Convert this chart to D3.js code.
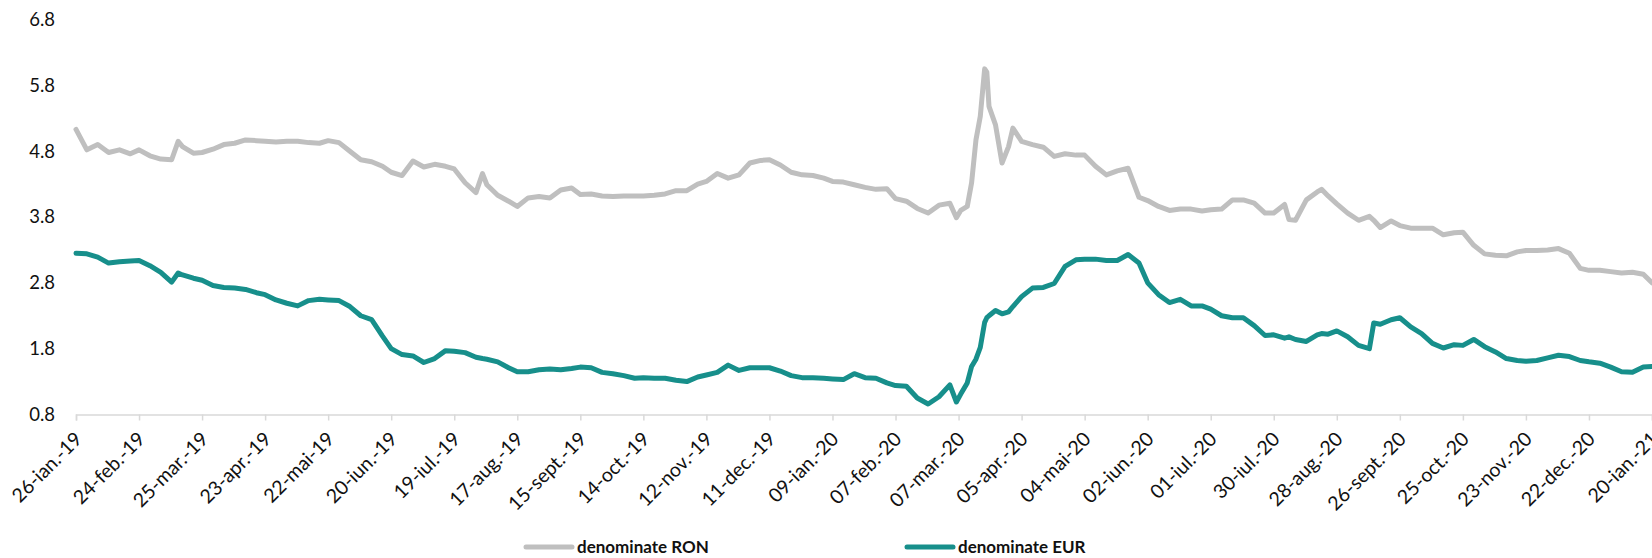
<!DOCTYPE html>
<html>
<head>
<meta charset="utf-8">
<script src="https://cdn.jsdelivr.net/npm/d3@7"></script>
<style>
  body { margin: 0; background: #fff; }
  svg { display: block; }
</style>
</head>
<body>
<script>
var dates = [
  "2019-01-26","2019-01-31","2019-02-05","2019-02-10","2019-02-15","2019-02-20","2019-02-24","2019-03-01","2019-03-06","2019-03-11",
  "2019-03-14","2019-03-16","2019-03-21","2019-03-25","2019-03-30","2019-04-04","2019-04-09","2019-04-14","2019-04-19","2019-04-23",
  "2019-04-28","2019-05-03","2019-05-08","2019-05-13","2019-05-18","2019-05-22","2019-05-27","2019-06-01","2019-06-06","2019-06-11",
  "2019-06-16","2019-06-20","2019-06-25","2019-06-30","2019-07-05","2019-07-10","2019-07-15","2019-07-19","2019-07-24","2019-07-29",
  "2019-08-01","2019-08-03","2019-08-08","2019-08-13","2019-08-17","2019-08-22","2019-08-27","2019-09-01","2019-09-06","2019-09-11",
  "2019-09-15","2019-09-20","2019-09-25","2019-09-30","2019-10-05","2019-10-10","2019-10-14","2019-10-19","2019-10-24","2019-10-29",
  "2019-11-03","2019-11-08","2019-11-12","2019-11-17","2019-11-22","2019-11-27","2019-12-02","2019-12-07","2019-12-11","2019-12-16",
  "2019-12-21","2019-12-26","2019-12-31","2020-01-05","2020-01-09","2020-01-14","2020-01-19","2020-01-24","2020-01-29","2020-02-03",
  "2020-02-07","2020-02-12","2020-02-17","2020-02-22","2020-02-27","2020-03-03","2020-03-06","2020-03-08","2020-03-11","2020-03-13",
  "2020-03-15","2020-03-17","2020-03-19","2020-03-20","2020-03-21","2020-03-24","2020-03-27","2020-03-30","2020-04-01","2020-04-05",
  "2020-04-10","2020-04-15","2020-04-20","2020-04-25","2020-04-30","2020-05-04","2020-05-09","2020-05-14","2020-05-19","2020-05-24",
  "2020-05-29","2020-06-02","2020-06-07","2020-06-12","2020-06-17","2020-06-22","2020-06-27","2020-07-01","2020-07-06","2020-07-11",
  "2020-07-16","2020-07-21","2020-07-26","2020-07-30","2020-08-04","2020-08-06","2020-08-09","2020-08-14","2020-08-19","2020-08-21",
  "2020-08-24","2020-08-28","2020-09-02","2020-09-07","2020-09-12","2020-09-14","2020-09-17","2020-09-22","2020-09-26","2020-10-01",
  "2020-10-06","2020-10-11","2020-10-16","2020-10-21","2020-10-25","2020-10-30","2020-11-04","2020-11-09","2020-11-14","2020-11-19",
  "2020-11-23","2020-11-28","2020-12-03","2020-12-08","2020-12-13","2020-12-18","2020-12-22","2020-12-27","2021-01-01","2021-01-06",
  "2021-01-11","2021-01-16","2021-01-20"
];

var ronValues = [
  5.13,4.82,4.90,4.78,4.82,4.76,4.82,4.73,4.68,4.67,
  4.95,4.87,4.77,4.78,4.83,4.90,4.92,4.97,4.96,4.95,
  4.94,4.95,4.95,4.93,4.92,4.96,4.93,4.80,4.67,4.64,
  4.57,4.48,4.43,4.65,4.56,4.60,4.57,4.53,4.32,4.17,
  4.46,4.29,4.13,4.04,3.96,4.09,4.11,4.09,4.21,4.24,
  4.14,4.15,4.12,4.11,4.12,4.12,4.12,4.13,4.15,4.20,
  4.20,4.30,4.34,4.46,4.39,4.44,4.62,4.66,4.67,4.59,
  4.48,4.44,4.43,4.39,4.34,4.33,4.29,4.25,4.22,4.23,
  4.08,4.04,3.93,3.86,3.98,4.01,3.79,3.90,3.96,4.32,
  4.97,5.33,6.05,6.00,5.48,5.20,4.62,4.87,5.15,4.95,
  4.90,4.86,4.72,4.76,4.74,4.74,4.57,4.44,4.50,4.54,
  4.10,4.05,3.96,3.90,3.92,3.92,3.89,3.91,3.92,4.06,
  4.06,4.01,3.86,3.86,3.99,3.76,3.75,4.06,4.18,4.22,
  4.12,4.00,3.86,3.75,3.81,3.75,3.64,3.74,3.67,3.63,
  3.63,3.63,3.53,3.56,3.57,3.37,3.24,3.22,3.21,3.27,
  3.29,3.29,3.30,3.32,3.25,3.02,2.99,2.99,2.97,2.95,
  2.96,2.93,2.80
];

var eurValues = [
  3.25,3.24,3.19,3.10,3.12,3.13,3.14,3.06,2.96,2.81,
  2.95,2.92,2.87,2.84,2.76,2.73,2.72,2.70,2.65,2.62,
  2.54,2.49,2.45,2.53,2.55,2.54,2.53,2.44,2.30,2.24,
  1.99,1.80,1.71,1.69,1.59,1.65,1.77,1.76,1.74,1.67,
  1.65,1.64,1.60,1.51,1.45,1.45,1.48,1.49,1.48,1.50,
  1.52,1.51,1.44,1.42,1.39,1.35,1.36,1.35,1.35,1.32,
  1.30,1.37,1.40,1.44,1.55,1.47,1.51,1.51,1.51,1.46,
  1.39,1.36,1.36,1.35,1.34,1.33,1.42,1.36,1.35,1.28,
  1.24,1.23,1.05,0.96,1.07,1.25,0.99,1.11,1.28,1.53,
  1.64,1.82,2.20,2.27,2.30,2.38,2.33,2.36,2.44,2.59,
  2.72,2.73,2.79,3.05,3.15,3.16,3.16,3.14,3.14,3.23,
  3.10,2.80,2.62,2.50,2.55,2.45,2.45,2.40,2.30,2.27,
  2.27,2.15,2.00,2.01,1.96,1.98,1.94,1.91,2.01,2.03,
  2.02,2.07,1.98,1.85,1.80,2.19,2.17,2.24,2.27,2.13,
  2.03,1.88,1.81,1.86,1.85,1.94,1.83,1.75,1.65,1.62,
  1.61,1.62,1.66,1.70,1.68,1.62,1.60,1.58,1.52,1.45,
  1.44,1.52,1.53
];

var tickDates = [
  "2019-01-26","2019-02-24","2019-03-25","2019-04-23","2019-05-22","2019-06-20","2019-07-19","2019-08-17","2019-09-15",
  "2019-10-14","2019-11-12","2019-12-11","2020-01-09","2020-02-07","2020-03-07","2020-04-05","2020-05-04","2020-06-02",
  "2020-07-01","2020-07-30","2020-08-28","2020-09-26","2020-10-25","2020-11-23","2020-12-22","2021-01-20"
];
var tickLabels = [
  "26-ian.-19","24-feb.-19","25-mar.-19","23-apr.-19","22-mai-19","20-iun.-19","19-iul.-19","17-aug.-19","15-sept.-19",
  "14-oct.-19","12-nov.-19","11-dec.-19","09-ian.-20","07-feb.-20","07-mar.-20","05-apr.-20","04-mai-20","02-iun.-20",
  "01-iul.-20","30-iul.-20","28-aug.-20","26-sept.-20","25-oct.-20","23-nov.-20","22-dec.-20","20-ian.-21"
];
var yTicks = [0.8, 1.8, 2.8, 3.8, 4.8, 5.8, 6.8];

var seriesNames = ["denominate RON", "denominate EUR"];
var seriesColors = ["#bfbfbf", "#178f8b"];

var width = 1652, height = 558;
var plotLeft = 76, plotRight = 1652, plotTop = 19.5, plotBottom = 414.5;
var parse = d3.timeParse("%Y-%m-%d");

var svg = d3.select("body").append("svg")
  .attr("width", width)
  .attr("height", height);

var x = d3.scaleTime()
  .domain([parse(tickDates[0]), parse(tickDates[tickDates.length - 1])])
  .range([plotLeft, plotRight]);

var y = d3.scaleLinear()
  .domain([0.8, 6.8])
  .range([plotBottom, plotTop]);

// y labels, no axis line
svg.append("g")
  .selectAll("text")
  .data(yTicks)
  .enter()
  .append("text")
  .attr("x", 55)
  .attr("y", function(d) { return y(d); })
  .attr("dy", "0.35em")
  .attr("text-anchor", "end")
  .attr("font-family", "Lato, sans-serif")
  .attr("font-size", "18.5px")
  .attr("fill", "#111")
  .text(function(d) { return d.toFixed(1); });

// x axis
var xAxis = d3.axisBottom(x)
  .tickValues(tickDates.map(parse))
  .tickSize(6)
  .tickFormat(function(d, i) { return tickLabels[i]; });

var gx = svg.append("g")
  .attr("transform", "translate(0," + plotBottom + ")")
  .call(xAxis);

gx.select(".domain").attr("stroke", "#d9d9d9").attr("stroke-width", 1.5);
gx.selectAll(".tick line").attr("stroke", "#d9d9d9").attr("stroke-width", 1.5);
gx.selectAll(".tick text")
  .attr("font-family", "Lato, sans-serif")
  .attr("font-size", "19.5px")
  .attr("fill", "#111")
  .attr("text-anchor", "end")
  .attr("x", 0)
  .attr("y", 0)
  .attr("dy", "0.35em")
  .attr("transform", "translate(2,21) rotate(-45)");

// lines
var series = [ronValues, eurValues];
var line = d3.line()
  .x(function(d, i) { return x(parse(dates[i])); })
  .y(function(d) { return y(d); });

svg.append("defs").append("clipPath").attr("id", "plot")
  .append("rect").attr("x", plotLeft - 5).attr("y", 0).attr("width", plotRight - plotLeft + 5).attr("height", plotBottom);

svg.selectAll("path.series")
  .data(series)
  .enter()
  .append("path")
  .attr("class", "series")
  .attr("clip-path", "url(#plot)")
  .attr("d", line)
  .attr("fill", "none")
  .attr("stroke", function(d, i) { return seriesColors[i]; })
  .attr("stroke-width", 5)
  .attr("stroke-linejoin", "round")
  .attr("stroke-linecap", "round");

// legend
var legendX = [524, 905];
var legend = svg.selectAll("g.legend")
  .data(seriesNames)
  .enter()
  .append("g")
  .attr("class", "legend")
  .attr("transform", function(d, i) { return "translate(" + legendX[i] + ",547)"; });

legend.append("line")
  .attr("x1", 2).attr("x2", 48)
  .attr("y1", 0).attr("y2", 0)
  .attr("stroke", function(d, i) { return seriesColors[i]; })
  .attr("stroke-width", 5)
  .attr("stroke-linecap", "round");

legend.append("text")
  .attr("x", 53)
  .attr("dy", "0.35em")
  .attr("font-family", "Lato, sans-serif")
  .attr("font-weight", "bold")
  .attr("font-size", "17px")
  .attr("fill", "#111")
  .text(function(d) { return d; });
</script>
</body>
</html>
